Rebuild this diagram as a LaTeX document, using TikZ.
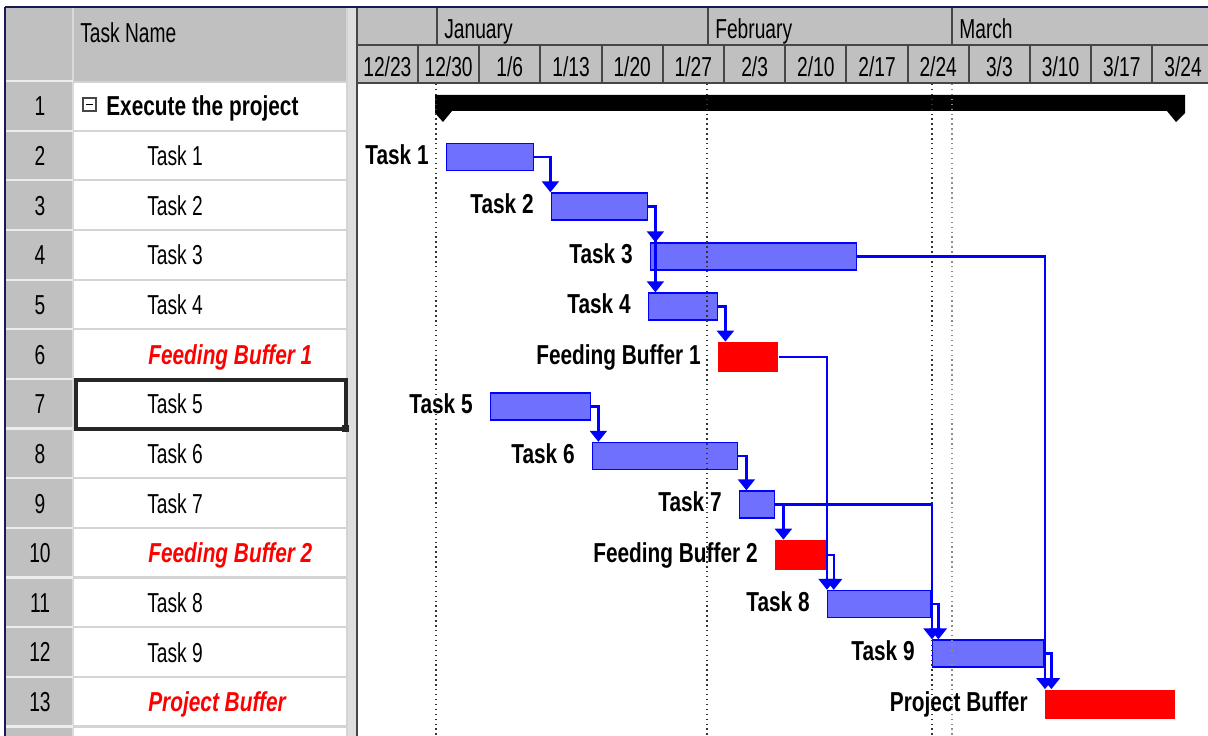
\documentclass[tikz,border=0pt]{standalone}
\usepackage{fontspec}
\usetikzlibrary{arrows.meta,positioning}
\newfontfamily\tablefont[FakeStretch=0.7]{Liberation Sans}
\newfontfamily\chartfont[FakeStretch=0.76]{Liberation Sans}
\newcommand\ganttsize{\fontsize{15.6}{18}\selectfont}
\definecolor{headergray}{RGB}{192,192,192}
\definecolor{gridgray}{RGB}{212,212,212}
\definecolor{splitgray}{RGB}{222,222,222}
\definecolor{darkline}{RGB}{70,70,70}
\definecolor{framenavy}{RGB}{25,25,90}
\definecolor{barblue}{RGB}{0,0,255}
\definecolor{barfill}{RGB}{112,112,255}
\definecolor{bufferred}{RGB}{255,0,0}

\tikzset{
  rowtext/.style={font=\tablefont\ganttsize, inner sep=0pt, text height=11.4pt, text depth=0pt, anchor=west},
  rownum/.style={font=\tablefont\ganttsize, inner sep=0pt, text height=11.4pt, text depth=0pt},
  headtext/.style={font=\tablefont\ganttsize, inner sep=0pt, text height=11.4pt, text depth=0pt},
  buffertext/.style={rowtext, font=\chartfont\bfseries\itshape\ganttsize, text=bufferred},
  barlabel/.style={font=\chartfont\bfseries\ganttsize, inner sep=0pt, text height=11.4pt, text depth=0pt, yshift=0.06cm},
  taskbar/.style={draw=barblue, fill=barfill, line width=0.8pt, minimum height=0.54cm, inner sep=0pt, anchor=west},
  bufferbar/.style={fill=bufferred, minimum height=0.6cm, inner sep=0pt, anchor=west},
  link/.style={barblue, line width=1.3pt, -{Triangle[width=0.34cm,length=0.22cm]}},
  gridline/.style={gridgray, line width=1.2pt},
  headline/.style={darkline, line width=1.2pt}
}

\begin{document}
\begin{tikzpicture}[x=0.02cm, y=-0.02cm]
\useasboundingbox (0,0) rectangle (1208,736);
\fill[white] (0,0) rectangle (1208,736);

% header and table background
\fill[headergray] (5,8) rectangle (1208,82);
\fill[headergray] (5,82) rectangle (73,736);
\fill[splitgray] (347,8) rectangle (357,736);
\draw[gridline] (347,8) -- (347,736);
\draw[darkline, line width=1pt] (357,8) -- (357,736);
\draw[white!70!gray, line width=1pt] (73,8) -- (73,736);
\foreach \k in {1,...,13}
  \draw[gridline] (73,{81+\k*49.65}) -- (347,{81+\k*49.65});
\foreach \k in {0,...,13}
  \draw[white!85!gray, line width=1.2pt] (5,{81+\k*49.65}) -- (73,{81+\k*49.65});
\draw[gridline] (73,82) -- (347,82);

% chart header
\draw[headline] (358,45) -- (1208,45);
\draw[headline] (358,83) -- (1208,83);
\foreach \mx in {437,708,952}
  \draw[headline] (\mx,8) -- (\mx,45);
\foreach \k in {0,...,12}
  \draw[headline] ({418+\k*61.2},45) -- ({418+\k*61.2},83);
\node[headtext, anchor=west] (taskname) at (80,32) {Task Name};
\node[headtext, anchor=west] (jan) at (444,28) {January};
\node[headtext, anchor=west] (feb) at (715,28) {February};
\node[headtext, anchor=west] (mar) at (959,28) {March};
\foreach \w [count=\k from 0] in {12/23,12/30,1/6,1/13,1/20,1/27,2/3,2/10,2/17,2/24,3/3,3/10,3/17,3/24}
  \node[headtext] (week\k) at ({387.4+\k*61.2},66) {\w};

% outer frame
\draw[framenavy, line width=1.5pt] (5,7) -- (1208,7);
\draw[framenavy, line width=1.5pt] (5,7) -- (5,736);

% task table
\foreach \i in {1,...,13}
  \node[rownum] (num\i) at (40,{81+(\i-0.5)*49.65}) {\i};
\draw[darkline, line width=0.6pt] (83,98) rectangle (96,111);
\draw[black, line width=0.8pt] (86,104.5) -- (93,104.5);
\node[rowtext, font=\chartfont\bfseries\ganttsize] (execname) at (106,105.8) {Execute the project};
\node[rowtext] (name1) at (147,155.5) {Task 1};
\node[rowtext] (name2) at (147,205.1) {Task 2};
\node[rowtext] (name3) at (147,254.8) {Task 3};
\node[rowtext] (name4) at (147,304.4) {Task 4};
\node[buffertext] (namefb1) at (148,354.1) {Feeding Buffer 1};
\node[rowtext] (name5) at (147,403.7) {Task 5};
\node[rowtext] (name6) at (147,453.4) {Task 6};
\node[rowtext] (name7) at (147,503.0) {Task 7};
\node[buffertext] (namefb2) at (148,552.7) {Feeding Buffer 2};
\node[rowtext] (name8) at (147,602.3) {Task 8};
\node[rowtext] (name9) at (147,652.0) {Task 9};
\node[buffertext] (namepb) at (148,701.6) {Project Buffer};
\draw[black!85, line width=2.4pt] (76,380) rectangle (346,429);
\fill[black!85] (342,425) rectangle (349,432);

% summary bar
\fill[black] (435,95) -- (1185,95) -- (1185,113) -- (1176,122) -- (1167,111)
  -- (452,111) -- (443,122) -- (435,113) -- cycle;

% bars
\node[taskbar, minimum width=1.74cm] (t1) at (446,157) {};
\node[taskbar, minimum width=1.92cm] (t2) at (551,206.5) {};
\node[taskbar, minimum width=4.12cm] (t3) at (650,256.5) {};
\node[taskbar, minimum width=1.38cm] (t4) at (648,306.5) {};
\node[bufferbar, minimum width=1.2cm] (fb1) at (718,357) {};
\node[taskbar, minimum width=2.0cm] (t5) at (490,406.5) {};
\node[taskbar, minimum width=2.9cm] (t6) at (592,456) {};
\node[taskbar, minimum width=0.7cm] (t7) at (739,504.5) {};
\node[bufferbar, minimum width=1.02cm] (fb2) at (775,555) {};
\node[taskbar, minimum width=2.06cm] (t8) at (827,604) {};
\node[taskbar, minimum width=2.22cm] (t9) at (932,653.5) {};
\node[bufferbar, minimum width=2.6cm] (pb) at (1045,704.5) {};

% bar labels
\node[barlabel, left=0.34cm of t1] (l1) {Task 1};
\node[barlabel, left=0.34cm of t2] (l2) {Task 2};
\node[barlabel, left=0.34cm of t3] (l3) {Task 3};
\node[barlabel, left=0.34cm of t4] (l4) {Task 4};
\node[barlabel, left=0.34cm of fb1] (lfb1) {Feeding Buffer 1};
\node[barlabel, left=0.34cm of t5] (l5) {Task 5};
\node[barlabel, left=0.34cm of t6] (l6) {Task 6};
\node[barlabel, left=0.34cm of t7] (l7) {Task 7};
\node[barlabel, left=0.34cm of fb2] (lfb2) {Feeding Buffer 2};
\node[barlabel, left=0.34cm of t8] (l8) {Task 8};
\node[barlabel, left=0.34cm of t9] (l9) {Task 9};
\node[barlabel, left=0.34cm of pb] (lpb) {Project Buffer};

% date lines
\foreach \dx in {436,707,932}
  \draw[black!80, dotted, line width=0.8pt] (\dx,84) -- (\dx,736);
\draw[black!45, dotted, line width=0.8pt] (952,84) -- (952,736);

% links
\draw[link] (t1.east) -- ++(16,0) coordinate (c12) -- (c12 |- t2.north);
\draw[link] (t2.east) -- ++(7,0) coordinate (c23) -- (c23 |- t3.north);
\draw[link] (c23) -- (c23 |- t4.north);
\draw[link] (t3.east) -| (pb.north west);
\draw[link] (t4.east) -- ++(7,0) coordinate (c4) -- (c4 |- fb1.north);
\draw[link] (fb1.east) -| (t8.north west);
\draw[link] (t5.east) -- ++(7,0) coordinate (c56) -- (c56 |- t6.north);
\draw[link] (t6.east) -- ++(8,0) coordinate (c67) -- (c67 |- t7.north);
\draw[link] (t7.east) -- ++(8,0) coordinate (c7) -- (c7 |- fb2.north);
\draw[link] (t7.east) -| (t9.north west);
\draw[link] (fb2.east) -- ++(7,0) coordinate (c28) -- (c28 |- t8.north);
\draw[link] (t8.east) -- ++(7,0) coordinate (c89) -- (c89 |- t9.north);
\draw[link] (t9.east) -- ++(7,0) coordinate (c9) -- (c9 |- pb.north);
\end{tikzpicture}
\end{document}
